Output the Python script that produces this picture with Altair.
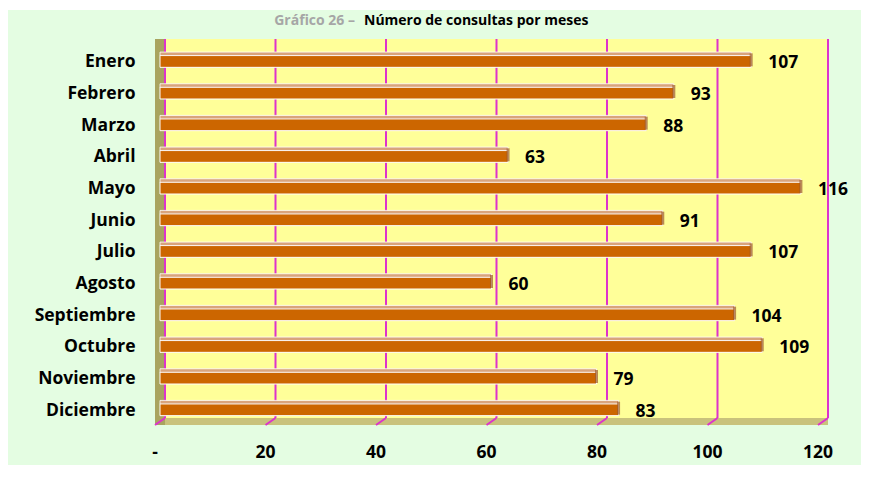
import altair as alt
import pandas as pd

months = ["Enero", "Febrero", "Marzo", "Abril", "Mayo", "Junio", "Julio",
          "Agosto", "Septiembre", "Octubre", "Noviembre", "Diciembre"]
consultas = [107, 93, 88, 63, 116, 91, 107, 60, 104, 109, 79, 83]
tick_values = [0, 20, 40, 60, 80, 100, 120]
tick_labels = ["-", "20", "40", "60", "80", "100", "120"]
title_prefix = "Gráfico 26 –"
title_main = "Número de consultas por meses"

df = pd.DataFrame({"mes": months, "n": consultas})
ticks = pd.DataFrame({"v": tick_values, "lab": tick_labels})
one = alt.Data(values=[{"k": 1}])

FONT = "Open Sans"
GREEN = "#E4FDE2"
YELLOW = "#FFFF99"
ORANGE = "#CC6600"
MAGENTA = "#DD33CC"

W, H = 663, 380
xscale = alt.Scale(domain=[0, 120], nice=False, zero=True)


def rect(x, x2, y, y2, color):
    return alt.Chart(one).mark_rect(color=color).encode(
        x=alt.value(x), x2=alt.value(x2), y=alt.value(y), y2=alt.value(y2))


bg = rect(-152, 720, -34, 421, GREEN)
wall = rect(5, 668, -5, 374, YELLOW)
floor = rect(-5, 668, 374, 381, "#C9C27C")
left_wall = rect(-5, 5, -5, 381, "#A9A45F")

grid = alt.Chart(ticks).mark_rule(color=MAGENTA, strokeWidth=2, xOffset=5).encode(
    x=alt.X("v:Q", scale=xscale, axis=None),
    y=alt.value(-5), y2=alt.value(374))
floor_ticks = alt.Chart(ticks).mark_rule(color=MAGENTA, strokeWidth=2, xOffset=5, x2Offset=-5).encode(
    x=alt.X("v:Q", scale=xscale, axis=None), x2="v:Q",
    y=alt.value(374), y2=alt.value(381))

yenc = alt.Y("mes:N", sort=months, title=None,
             scale=alt.Scale(paddingInner=0, paddingOuter=0),
             axis=alt.Axis(domain=False, ticks=False, labelPadding=25, zindex=2,
                           labelOffset=2.5,
                           labelFont=FONT, labelFontSize=17.5, labelFontWeight="bold",
                           labelColor="#000000", grid=False))

body = alt.Chart(df).mark_bar(color=ORANGE, size=12, yOffset=1.5, stroke="white",
                              strokeWidth=1).encode(
    x=alt.X("n:Q", scale=xscale, axis=None), y=yenc)
top = alt.Chart(df).mark_bar(color="#D9A47C", size=3.5, yOffset=-6, stroke="white",
                             strokeWidth=0.8).encode(
    x=alt.X("n:Q", scale=xscale, axis=None), y=yenc)
cap = alt.Chart(df).mark_tick(color="#9C5A2A", thickness=3, size=13, orient="vertical",
                              yOffset=0).encode(
    x=alt.X("n:Q", scale=xscale, axis=None), y=yenc)
vals = alt.Chart(df).mark_text(align="left", baseline="middle", dx=17, dy=3.5,
                               font=FONT, fontSize=17.5, fontWeight="bold",
                               color="#000000").encode(
    x=alt.X("n:Q", scale=xscale, axis=None), y=yenc, text="n:Q")

xlabels = alt.Chart(ticks).mark_text(align="center", baseline="middle", xOffset=-5,
                                     font=FONT, fontSize=17.5, fontWeight="bold",
                                     color="#000000").encode(
    x=alt.X("v:Q", scale=xscale, axis=None), y=alt.value(409), text="lab:N")

t1 = alt.Chart(one).mark_text(align="right", baseline="alphabetic", font=FONT,
                              fontSize=14, fontWeight="bold", color="#A6A6A6").encode(
    x=alt.value(195), y=alt.value(-19), text=alt.value(title_prefix))
t2 = alt.Chart(one).mark_text(align="left", baseline="alphabetic", font=FONT,
                              fontSize=14, fontWeight="bold", color="#000000").encode(
    x=alt.value(204), y=alt.value(-19), text=alt.value(title_main))

chart = alt.layer(bg, t1, t2, wall, floor, left_wall, grid, floor_ticks,
                  body, top, cap, vals, xlabels).properties(
    width=W, height=H,
    autosize=alt.AutoSizeParams(type="none"),
    padding={"left": 152, "top": 36, "right": 38, "bottom": 45},
    background="white",
).configure_view(stroke=None)

chart.save("out.html", embed_options={"renderer": "svg", "actions": False})
